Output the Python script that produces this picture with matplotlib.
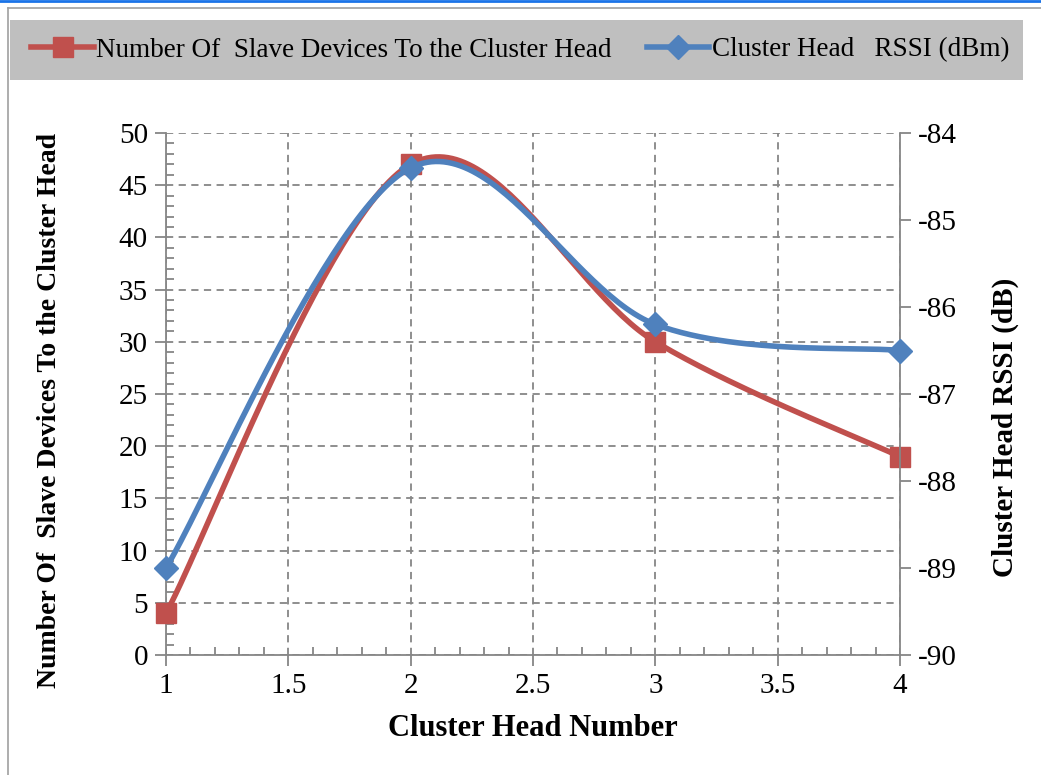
import numpy as np
import matplotlib
matplotlib.use("Agg")
import matplotlib.pyplot as plt
from matplotlib.patches import Rectangle
from matplotlib.lines import Line2D
from matplotlib.ticker import MultipleLocator

plt.rcParams['font.family'] = ['Liberation Serif', 'DejaVu Serif']
plt.rcParams['axes.unicode_minus'] = False

#================================================================================================#
## data
cluster_head = [1, 2, 3, 4]
slave_devices = [4, 47, 30, 19]
rssi_dbm = [-89.0, -84.4, -86.2, -86.5]

label_slaves = "Number Of  Slave Devices To the Cluster Head"
label_rssi = "Cluster Head   RSSI (dBm)"

## plot parameters
red = "#C0504D"
blue = "#4F81BD"
grid_col = "#868686"
fs_tick = 21
fs_label = 22
#================================================================================================#
def smooth(x, y, n=60):
    # excel-like smoothed line (catmull-rom bezier through the points)
    x = np.asarray(x, float)
    y = np.asarray(y, float)
    px = np.concatenate([[x[0]], x, [x[-1]]])
    py = np.concatenate([[y[0]], y, [y[-1]]])
    xs, ys = [], []
    t = np.linspace(0, 1, n)
    for i in range(1, len(px) - 2):
        p0 = np.array([px[i], py[i]])
        p3 = np.array([px[i + 1], py[i + 1]])
        c1 = p0 + (p3 - np.array([px[i - 1], py[i - 1]])) / 6.0
        c2 = p3 - (np.array([px[i + 2], py[i + 2]]) - p0) / 6.0
        b = ((1 - t) ** 3)[:, None] * p0 + (3 * (1 - t) ** 2 * t)[:, None] * c1 \
            + (3 * (1 - t) * t ** 2)[:, None] * c2 + (t ** 3)[:, None] * p3
        xs.append(b[:, 0])
        ys.append(b[:, 1])
    return np.concatenate(xs), np.concatenate(ys)
#================================================================================================#
fig = plt.figure(figsize=(10.41, 7.75), dpi=100)
ax = fig.add_axes([166 / 1041, 1 - 655 / 775, (900 - 166) / 1041, (655 - 133) / 775])
ax2 = ax.twinx()

# frame decorations
fig.add_artist(Line2D([0, 1], [1 - 1 / 775, 1 - 1 / 775], color="#1A73E8", lw=2, transform=fig.transFigure))
fig.add_artist(Line2D([8 / 1041, 1], [1 - 8 / 775, 1 - 8 / 775], color="#A0A0A0", lw=1.2, transform=fig.transFigure))
fig.add_artist(Line2D([8 / 1041, 8 / 1041], [0, 1 - 8 / 775], color="#A0A0A0", lw=1.2, transform=fig.transFigure))
fig.add_artist(Rectangle((10 / 1041, 1 - 80 / 775), (1023 - 10) / 1041, 60 / 775,
                         transform=fig.transFigure, facecolor="#BFBFBF", edgecolor="none", zorder=0))

sx, sy = smooth(cluster_head, slave_devices)
ax.plot(sx, sy, color=red, lw=4, solid_capstyle="round", zorder=3, clip_on=False)
ax.plot(cluster_head, slave_devices, ls="none", marker="s", ms=14, color=red, zorder=4, clip_on=False)

rx, ry = smooth(cluster_head, rssi_dbm)
ax2.plot(rx, ry, color=blue, lw=4, solid_capstyle="round", zorder=3, clip_on=False)
ax2.plot(cluster_head, rssi_dbm, ls="none", marker="D", ms=12, color=blue, zorder=4, clip_on=False)

ax.set_xlim(1, 4)
ax.set_ylim(0, 50)
ax2.set_ylim(-90, -84)
ax.xaxis.set_minor_locator(MultipleLocator(0.1))
ax.yaxis.set_major_locator(MultipleLocator(5))
ax.yaxis.set_minor_locator(MultipleLocator(1))
ax2.yaxis.set_major_locator(MultipleLocator(1))
ax.set_xticks([1, 1.5, 2, 2.5, 3, 3.5, 4])
ax.set_xticklabels(["1", "1.5", "2", "2.5", "3", "3.5", "4"])

ax.grid(True, which="major", color=grid_col, ls=(0, (4, 3)), lw=1.3)
for a in (ax, ax2):
    a.spines["top"].set_visible(False)
    for s in ("left", "bottom", "right"):
        a.spines[s].set_color(grid_col)
        a.spines[s].set_linewidth(1.3)
    a.set_facecolor("none")
ax.spines["right"].set_visible(False)
ax2.spines["left"].set_visible(False)
ax2.spines["bottom"].set_visible(False)

ax.tick_params(which="major", direction="out", length=8, width=1.3, color=grid_col, labelsize=fs_tick, pad=5)
ax.tick_params(which="minor", direction="in", length=6, width=1.3, color=grid_col)
ax2.tick_params(which="major", direction="out", length=8, width=1.3, color=grid_col, labelsize=fs_tick, pad=5)

ax.set_xlabel("Cluster Head Number", fontsize=fs_label, fontweight="bold")
ax.set_ylabel(label_slaves, fontsize=20, fontweight="bold")
ax2.set_ylabel("Cluster Head RSSI (dB)", fontsize=21, fontweight="bold")
ax.xaxis.set_label_coords(0.5, (655 - 728) / 522, transform=ax.transAxes)
ax.yaxis.set_label_coords((50 - 166) / 734, (655 - 410) / 522, transform=ax.transAxes)
ax2.yaxis.set_label_coords((1005 - 166) / 734, (655 - 427) / 522, transform=ax.transAxes)
for lab in (ax.xaxis.label, ax.yaxis.label, ax2.yaxis.label):
    lab.set_verticalalignment("center")
ax.set_zorder(ax2.get_zorder() - 1)

handles = [Line2D([], [], color=red, lw=4, marker="s", ms=14),
           Line2D([], [], color=blue, lw=4, marker="D", ms=12)]
fig.legend(handles, [label_slaves, label_rssi], loc="center", ncol=2,
           bbox_to_anchor=(0.5, 1 - 50 / 775), frameon=False, fontsize=19.5,
           handlelength=2.3, handletextpad=0.1, columnspacing=1.3)

fig.savefig("out.png", dpi=100)
